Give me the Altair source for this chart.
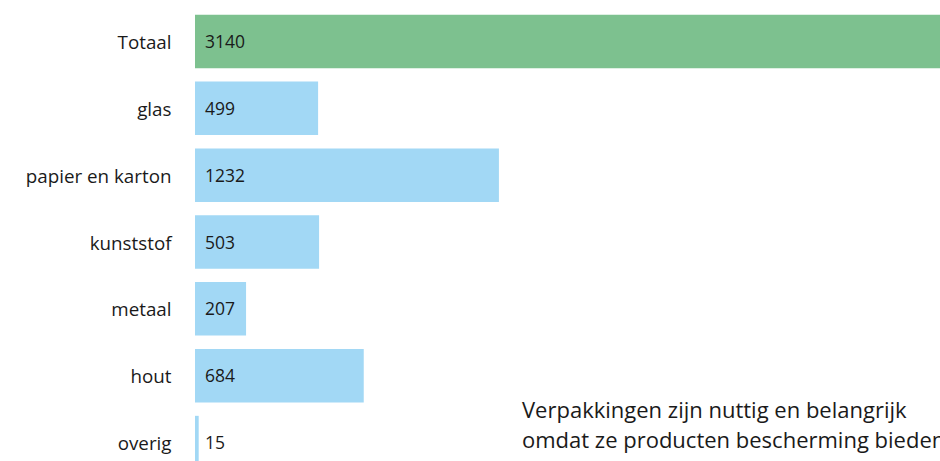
import altair as alt
import pandas as pd

categories = ["Totaal", "glas", "papier en karton", "kunststof", "metaal", "hout", "overig"]
values = [3140, 499, 1232, 503, 207, 684, 15]
groups = ["totaal", "deel", "deel", "deel", "deel", "deel", "deel"]
note_lines = ["Verpakkingen zijn nuttig en belangrijk", "omdat ze producten bescherming bieden"]

df = pd.DataFrame({"cat": categories, "value": values, "group": groups})

FONT = "Open Sans"

y_enc = alt.Y(
    "cat:N",
    sort=categories,
    scale=alt.Scale(range=[8, 476], paddingInner=0.2, paddingOuter=0.1),
    axis=alt.Axis(
        title=None, ticks=False, domain=False, labelPadding=24, labelOffset=1.5,
        labelFont=FONT, labelFontSize=18.8, labelColor="#1a1a1a", grid=False,
    ),
)

bars = alt.Chart(df).mark_bar(clip=True).encode(
    x=alt.X("value:Q", scale=alt.Scale(domain=[0, 3020], nice=False), axis=None),
    y=y_enc,
    color=alt.Color(
        "group:N",
        scale=alt.Scale(domain=["totaal", "deel"], range=["#7DC18F", "#A2D8F5"]),
        legend=None,
    ),
)

labels = alt.Chart(df).mark_text(
    align="left", baseline="middle", dx=10, dy=1.5, font=FONT, fontSize=17.5,
    color="#1a1a1a", clip=True
).encode(
    x=alt.datum(0),
    y=y_enc,
    text="value:Q",
)

note_df = pd.DataFrame({"txt": [note_lines]})
note = alt.Chart(note_df).mark_text(
    align="left", baseline="alphabetic", font=FONT, fontSize=22, color="#1a1a1a",
    lineHeight=30,
).encode(
    x=alt.value(327),
    y=alt.value(418),
    text="txt",
)

chart = alt.layer(bars, labels, note).properties(
    width=745, height=461,
    autosize=alt.AutoSizeParams(type="none"),
    padding={"left": 195, "top": 0, "right": 0, "bottom": 0},
).configure_view(stroke=None)

chart.save("out.html", embed_options={"renderer": "svg", "actions": False})
